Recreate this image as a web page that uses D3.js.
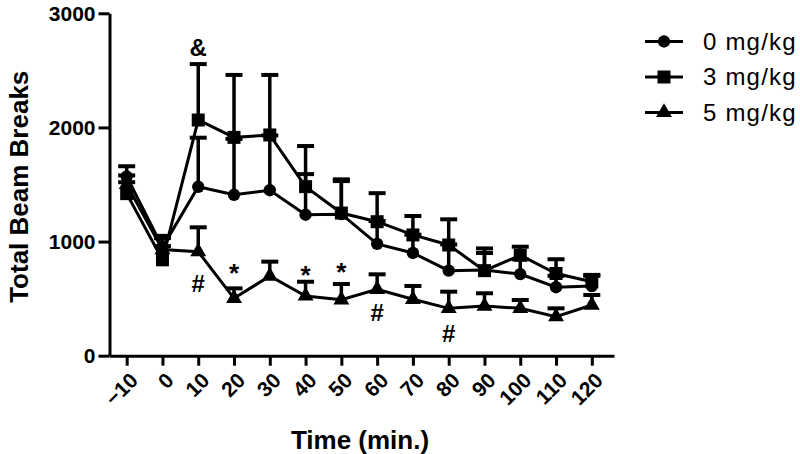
<!DOCTYPE html>
<meta charset="utf-8">
<style>
  body {
      margin: 0;
      background: #fff;
      font-family: Arial, "Liberation Sans", Helvetica, sans-serif;
  }
  .axis path, .axis line { stroke: #000; stroke-width: 3px; }
  .axis text { font-weight: bold; fill: #000; }
</style>
<svg id="chart" width="800" height="454"></svg>
<script src="https://cdn.jsdelivr.net/npm/d3@7"></script>
<script>
  'use strict';

  // data
  const times = [-10, 0, 10, 20, 30, 40, 50, 60, 70, 80, 90, 100, 110, 120];
  const dose0Mean = [1570, 950, 1480, 1410, 1450, 1235, 1240, 980, 900, 745, 750, 715, 600, 610];
  const dose0Sem  = [90, 100, 430, 490, 480, 356, 290, 200, 160, 230, 150, 130, 100, 90];
  const dose3Mean = [1420, 840, 2065, 1913, 1934, 1481, 1250, 1174, 1058, 970, 745, 880, 720, 648];
  const dose3Sem  = [100, 120, 490, 547, 526, 356, 295, 250, 166, 225, 195, 75, 125, 60];
  const dose5Mean = [1500, 930, 911, 503, 698, 523, 490, 582, 494, 415, 435, 415, 342, 444];
  const dose5Sem  = [80, 100, 214, 87, 126, 125, 138, 131, 117, 146, 112, 73, 73, 88];
  const seriesNames = ["0 mg/kg", "3 mg/kg", "5 mg/kg"];
  const yTicks = [0, 1000, 2000, 3000];
  const marks = [
    {time: 10, value: 2700, label: "&"},
    {time: 10, value: 631, label: "#"},
    {time: 20, value: 786, label: "*"},
    {time: 40, value: 768, label: "*"},
    {time: 50, value: 792, label: "*"},
    {time: 60, value: 379, label: "#"},
    {time: 80, value: 199, label: "#"}
  ];

  const series = [
    {name: seriesNames[0], shape: d3.symbolCircle, size: 120, mean: dose0Mean, sem: dose0Sem},
    {name: seriesNames[1], shape: d3.symbolSquare, size: 169, mean: dose3Mean, sem: dose3Sem},
    {name: seriesNames[2], shape: d3.symbolTriangle, size: 110, mean: dose5Mean, sem: dose5Sem}
  ];

  const svg = d3.select("#chart");
  const x = d3.scaleLinear().domain([-14.8, 126.2]).range([109.5, 614]);
  const y = d3.scaleLinear().domain([0, 3000]).range([355.7, 13.3]);

  // axes
  const xAxis = svg.append("g")
      .attr("class", "axis")
      .attr("transform", `translate(0,${y(0)})`)
      .call(d3.axisBottom(x).tickValues(times).tickSize(10).tickSizeOuter(0).tickFormat(d3.format("d")));
  xAxis.selectAll("text")
      .style("font-size", "21px")
      .attr("text-anchor", "end")
      .attr("dy", null)
      .attr("y", 0)
      .attr("transform", "translate(12,26) rotate(-45)");

  const yAxis = svg.append("g")
      .attr("class", "axis")
      .attr("transform", `translate(${x.range()[0]},0)`)
      .call(d3.axisLeft(y).tickValues(yTicks).tickSize(11).tickSizeOuter(0).tickFormat(d3.format("d")));
  yAxis.selectAll("text").style("font-size", "21px").attr("x", -14);

  svg.append("text")
      .attr("transform", `translate(28,${y(1480)}) rotate(-90)`)
      .attr("text-anchor", "middle")
      .style("font-weight", "bold")
      .style("font-size", "26px")
      .text("Total Beam Breaks");

  svg.append("text")
      .attr("x", 360)
      .attr("y", 449)
      .attr("text-anchor", "middle")
      .style("font-weight", "bold")
      .style("font-size", "26px")
      .text("Time (min.)");

  const line = d3.line()
      .x((d) => x(d.t))
      .y((d) => y(d.v));

  series.forEach((s) => {
    const pts = times.map((t, i) => ({t: t, v: s.mean[i], e: s.sem[i]}));
    const g = svg.append("g");

    g.selectAll(".stem").data(pts).enter().append("line")
        .attr("x1", (d) => x(d.t)).attr("x2", (d) => x(d.t))
        .attr("y1", (d) => y(d.v)).attr("y2", (d) => y(d.v + d.e))
        .attr("stroke", "#000").attr("stroke-width", 3.5);
    g.selectAll(".cap").data(pts).enter().append("line")
        .attr("x1", (d) => x(d.t) - 8.5).attr("x2", (d) => x(d.t) + 8.5)
        .attr("y1", (d) => y(d.v + d.e)).attr("y2", (d) => y(d.v + d.e))
        .attr("stroke", "#000").attr("stroke-width", 4);

    g.append("path")
        .datum(pts)
        .attr("fill", "none")
        .attr("stroke", "#000")
        .attr("stroke-width", 3)
        .attr("d", line);

    g.selectAll(".pt").data(pts).enter().append("path")
        .attr("transform", (d) => `translate(${x(d.t)},${y(d.v)})`)
        .attr("d", d3.symbol().type(s.shape).size(s.size))
        .attr("fill", "#000");
  });

  // significance marks
  svg.selectAll(".mark").data(marks).enter().append("text")
      .attr("x", (d) => x(d.time))
      .attr("y", (d) => y(d.value))
      .attr("dy", (d) => d.label === "*" ? "0.62em" : "0.36em")
      .attr("text-anchor", "middle")
      .style("font-weight", "bold")
      .style("font-size", (d) => d.label === "*" ? "26px" : "24px")
      .text((d) => d.label);

  // legend
  const legend = svg.append("g");
  const rows = legend.selectAll("g").data(series).enter().append("g")
      .attr("transform", (d, i) => `translate(664,${41.5 + i * 35.5})`);
  rows.append("line")
      .attr("x1", -19).attr("x2", 19)
      .attr("stroke", "#000").attr("stroke-width", 3);
  rows.append("path")
      .attr("d", (d) => d3.symbol().type(d.shape).size(d.size)())
      .attr("fill", "#000");
  rows.append("text")
      .attr("x", 39)
      .attr("dy", "0.35em")
      .style("font-size", "24px")
      .style("letter-spacing", "1.2px")
      .text((d) => d.name);
</script>
